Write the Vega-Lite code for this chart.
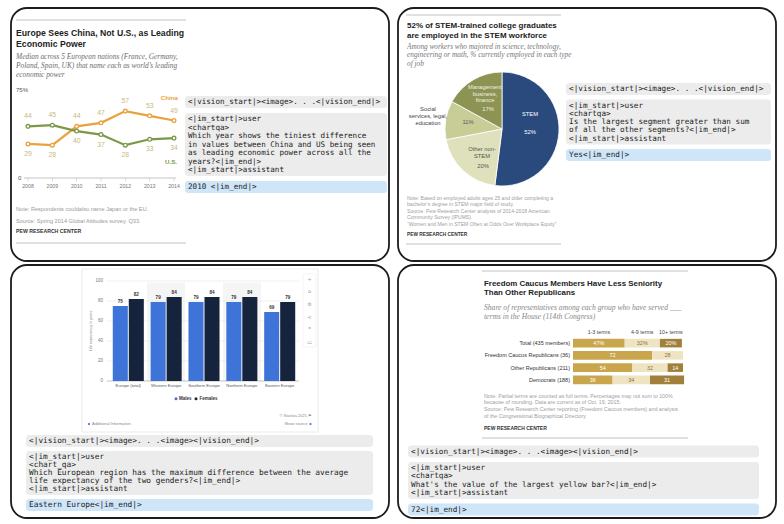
{
  "$schema": "https://vega.github.io/schema/vega-lite/v6.json",
  "background": "white",
  "padding": {"left": 10, "top": 7, "right": 0, "bottom": 0},
  "spacing": 2,
  "config": {
    "view": {"stroke": "#1c1c1c", "strokeWidth": 1.8, "cornerRadius": 16, "fill": "white"},
    "axis": {"disable": true},
    "legend": {"disable": true},
    "text": {"font": "Liberation Sans"},
    "locale": {"number": {"decimal": ".", "thousands": ",", "grouping": [3], "currency": ["", "%"]}}
  },
  "resolve": {"scale": {"color": "independent", "stroke": "independent", "xOffset": "independent", "theta": "independent"}},
  "vconcat": [
    {
      "hconcat": [
        {
          "width": 378, "height": 253,
          "resolve": {"scale": {"x": "independent", "y": "independent", "color": "independent", "stroke": "independent"}},
          "layer": [
            {
              "data": {"values": [{}]},
              "layer": [
                {"mark": {"type": "rule", "color": "#b3b3b3", "strokeWidth": 0.8},
                 "encoding": {"x": {"datum": 5, "scale": {"domain": [0, 378], "range": [0, 378], "nice": false}}, "x2": {"datum": 175}, "y": {"datum": 12, "scale": {"domain": [0, 253], "range": [0, 253], "nice": false}}}},
                {"mark": {"type": "rule", "color": "#b3b3b3", "strokeWidth": 0.8},
                 "encoding": {"x": {"datum": 5}, "x2": {"datum": 175}, "y": {"datum": 235}}},
                {"mark": {"type": "rule", "color": "#b8b8b8", "strokeWidth": 0.8},
                 "encoding": {"x": {"datum": 13}, "x2": {"datum": 165}, "y": {"datum": 170}}},
                {"mark": {"type": "text", "align": "left", "baseline": "middle", "fontSize": 6, "color": "#555555"},
                 "encoding": {"x": {"datum": 5}, "y": {"datum": 82}, "text": {"value": "75%"}}},
                {"mark": {"type": "text", "align": "left", "baseline": "middle", "fontSize": 6, "color": "#555555"},
                 "encoding": {"x": {"datum": 7}, "y": {"datum": 170}, "text": {"value": "0"}}},
                {"mark": {"type": "text", "align": "left", "baseline": "alphabetic", "fontSize": 8.7, "fontWeight": "bold", "color": "#222222", "lineHeight": 11},
                 "encoding": {"x": {"datum": 5}, "y": {"datum": 27.8}, "text": {"value": ["Europe Sees China, Not U.S., as Leading", "Economic Power"]}}},
                {"mark": {"type": "text", "align": "left", "baseline": "alphabetic", "font": "Liberation Serif", "fontStyle": "italic", "fontSize": 7.4, "color": "#6e6e6e", "lineHeight": 9},
                 "encoding": {"x": {"datum": 5}, "y": {"datum": 50.7}, "text": {"value": ["Median across 5 European nations (France, Germany,", "Poland, Spain, UK) that name each as world’s leading", "economic power"]}}},
                {"mark": {"type": "text", "align": "left", "baseline": "alphabetic", "fontSize": 5.6, "color": "#9a9a9a", "lineHeight": 12},
                 "encoding": {"x": {"datum": 5}, "y": {"datum": 203}, "text": {"value": ["Note: Respondents couldalso name Japan or the EU.", "Source: Spring 2014 Global Attitudes survey. Q33."]}}},
                {"mark": {"type": "text", "align": "left", "baseline": "alphabetic", "fontSize": 5.2, "fontWeight": "bold", "color": "#333333"},
                 "encoding": {"x": {"datum": 5}, "y": {"datum": 225}, "text": {"value": "PEW RESEARCH CENTER"}}}
              ]
            },
            {
              "data": {"values": [
                {"year": 2008, "country": "China", "value": 29},
                {"year": 2009, "country": "China", "value": 28},
                {"year": 2010, "country": "China", "value": 44},
                {"year": 2011, "country": "China", "value": 47},
                {"year": 2012, "country": "China", "value": 57},
                {"year": 2013, "country": "China", "value": 53},
                {"year": 2014, "country": "China", "value": 49},
                {"year": 2008, "country": "U.S.", "value": 44},
                {"year": 2009, "country": "U.S.", "value": 45},
                {"year": 2010, "country": "U.S.", "value": 40},
                {"year": 2011, "country": "U.S.", "value": 37},
                {"year": 2012, "country": "U.S.", "value": 28},
                {"year": 2013, "country": "U.S.", "value": 33},
                {"year": 2014, "country": "U.S.", "value": 34}
              ]},
              "encoding": {
                "x": {"field": "year", "type": "quantitative", "scale": {"domain": [2008, 2014], "range": [17, 163], "nice": false, "zero": false}},
                "y": {"field": "value", "type": "quantitative", "scale": {"domain": [0, 75], "range": [170, 82], "nice": false}}
              },
              "layer": [
                {"transform": [{"filter": "datum.country == 'China'"}], "mark": {"type": "tick", "orient": "vertical", "size": 3, "thickness": 0.7, "color": "#b8b8b8", "yOffset": 1.5},
                 "encoding": {"y": {"datum": 0}}},
                {"transform": [{"filter": "datum.country == 'China'"}], "mark": {"type": "text", "fontSize": 5.2, "color": "#777777", "dy": 7.5, "baseline": "middle"},
                 "encoding": {"y": {"datum": 0}, "text": {"field": "year", "type": "quantitative", "format": "d"}}},
                {"mark": {"type": "line", "strokeWidth": 2.2},
                 "encoding": {"color": {"field": "country", "type": "nominal", "scale": {"domain": ["China", "U.S."], "range": ["#e9a23c", "#7b9946"]}, "legend": null}}},
                {"mark": {"type": "point", "filled": true, "fill": "#ffffff", "size": 14, "strokeWidth": 1.3, "opacity": 1},
                 "encoding": {"stroke": {"field": "country", "type": "nominal", "scale": {"domain": ["China", "U.S."], "range": ["#e9a23c", "#7b9946"]}, "legend": null}}},
                {"transform": [{"joinaggregate": [{"op": "max", "field": "value", "as": "ymax"}], "groupby": ["year"]}, {"filter": "datum.value == datum.ymax"}],
                 "mark": {"type": "text", "dy": -10, "fontSize": 6.8, "color": "#c9b97f", "baseline": "middle"},
                 "encoding": {"text": {"field": "value", "type": "quantitative"}}},
                {"transform": [{"joinaggregate": [{"op": "max", "field": "value", "as": "ymax"}], "groupby": ["year"]}, {"filter": "datum.value < datum.ymax"}],
                 "mark": {"type": "text", "dy": 10, "fontSize": 6.8, "color": "#c9b97f", "baseline": "middle"},
                 "encoding": {"text": {"field": "value", "type": "quantitative"}}},
                {"transform": [{"filter": "datum.country == 'China' && datum.year == 2014"}],
                 "mark": {"type": "text", "align": "right", "baseline": "middle", "dx": 4, "dy": -22.5, "fontSize": 6.2, "fontWeight": "bold", "color": "#e9a23c"},
                 "encoding": {"text": {"field": "country"}}},
                {"transform": [{"filter": "datum.country == 'U.S.' && datum.year == 2014"}],
                 "mark": {"type": "text", "align": "right", "baseline": "middle", "dx": 3, "dy": 24, "fontSize": 6.2, "fontWeight": "bold", "color": "#7b9946"},
                 "encoding": {"text": {"field": "country"}}}
              ]
            },
            {
              "data": {"values": [
                {"line": 0, "block": "v", "text": "<|vision_start|><image>. . .<|vision_end|>"},
                {"line": 2, "block": "u", "text": "<|im_start|>user"},
                {"line": 3, "block": "u", "text": "<chartqa>"},
                {"line": 4, "block": "u", "text": "Which year shows the tiniest difference"},
                {"line": 5, "block": "u", "text": "in values between China and US being seen"},
                {"line": 6, "block": "u", "text": "as leading economic power across all the"},
                {"line": 7, "block": "u", "text": "years?<|im_end|>"},
                {"line": 8, "block": "u", "text": "<|im_start|>assistant"},
                {"line": 10, "block": "a", "text": "2010 <|im_end|>"}
              ]},
              "layer": [
                {"transform": [{"aggregate": [{"op": "min", "field": "line", "as": "l0"}, {"op": "max", "field": "line", "as": "l1"}], "groupby": ["block"]}],
                 "mark": {"type": "rect", "cornerRadius": 3, "yOffset": -6, "y2Offset": 6},
                 "encoding": {"x": {"datum": 0, "scale": {"domain": [0, 1], "range": [174, 376], "nice": false}}, "x2": {"datum": 1},
                   "y": {"field": "l0", "type": "quantitative", "scale": {"domain": [0, 10], "range": [94, 179], "nice": false}}, "y2": {"field": "l1"},
                   "fill": {"condition": {"test": "datum.block == 'a'", "value": "#cfe5f8"}, "value": "#ececec"}}},
                {"mark": {"type": "text", "align": "left", "baseline": "middle", "dx": 3, "font": "DejaVu Sans Mono", "fontSize": 7.6, "color": "#222222"},
                 "encoding": {"x": {"datum": 0}, "y": {"field": "line", "type": "quantitative"}, "text": {"field": "text"}}}
              ]
            }
          ]
        },
        {
          "width": 378, "height": 253,
          "resolve": {"scale": {"x": "independent", "y": "independent", "color": "independent"}},
          "layer": [
            {
              "data": {"values": [{}]},
              "layer": [
                {"mark": {"type": "rule", "color": "#b3b3b3", "strokeWidth": 0.8},
                 "encoding": {"x": {"datum": 8, "scale": {"domain": [0, 378], "range": [0, 378], "nice": false}}, "x2": {"datum": 163}, "y": {"datum": 7, "scale": {"domain": [0, 253], "range": [0, 253], "nice": false}}}},
                {"mark": {"type": "rule", "color": "#b3b3b3", "strokeWidth": 0.8},
                 "encoding": {"x": {"datum": 8}, "x2": {"datum": 163}, "y": {"datum": 236}}},
                {"mark": {"type": "text", "align": "left", "baseline": "alphabetic", "fontSize": 8, "fontWeight": "bold", "color": "#222222", "lineHeight": 10},
                 "encoding": {"x": {"datum": 9}, "y": {"datum": 19.9}, "text": {"value": ["52% of STEM-trained college graduates", "are employed in the STEM workforce"]}}},
                {"mark": {"type": "text", "align": "left", "baseline": "alphabetic", "font": "Liberation Serif", "fontStyle": "italic", "fontSize": 7.3, "color": "#777777", "lineHeight": 8.5},
                 "encoding": {"x": {"datum": 9}, "y": {"datum": 40.6}, "text": {"value": ["Among workers who majored in science, technology,", "engineering or math, % currently employed in each type", "of job"]}}},
                {"mark": {"type": "text", "align": "left", "baseline": "alphabetic", "fontSize": 5.1, "color": "#a0a0a0", "lineHeight": 6.5},
                 "encoding": {"x": {"datum": 9}, "y": {"datum": 191.5}, "text": {"value": ["Note: Based on employed adults ages 25 and older completing a", "bachelor’s degree in STEM major field of study.", "Source: Pew Research Center analysis of 2014-2018 American", "Community Survey (IPUMS).", "“Women and Men in STEM Often at Odds Over Workplace Equity”"]}}},
                {"mark": {"type": "text", "align": "left", "baseline": "alphabetic", "fontSize": 4.8, "fontWeight": "bold", "color": "#333333"},
                 "encoding": {"x": {"datum": 9}, "y": {"datum": 227.8}, "text": {"value": "PEW RESEARCH CENTER"}}}
              ]
            },
            {
              "data": {"values": [
                {"category": "STEM", "pct": 52},
                {"category": "Other non-STEM", "pct": 20},
                {"category": "Social services, legal, education", "pct": 11},
                {"category": "Management, business, finance", "pct": 17}
              ]},
              "layer": [
                {"transform": [{"window": [{"op": "row_number", "as": "seq"}]}],
                 "mark": {"type": "arc", "outerRadius": 57, "x": 104, "y": 121, "stroke": "#ffffff", "strokeWidth": 0.8},
                 "encoding": {
                   "theta": {"field": "pct", "type": "quantitative", "stack": true},
                   "order": {"field": "seq", "type": "quantitative"},
                   "color": {"field": "category", "type": "nominal", "scale": {"domain": ["STEM", "Other non-STEM", "Social services, legal, education", "Management, business, finance"], "range": ["#2a4a7d", "#dfe1bd", "#c8cd98", "#8d9352"]}, "legend": null}
                 }},
                {
                  "data": {"values": [{}]},
                  "layer": [
                    {"mark": {"type": "text", "baseline": "middle", "fontSize": 5.8, "color": "#ffffff"},
                     "encoding": {"x": {"datum": 132, "scale": {"domain": [0, 378], "range": [0, 378], "nice": false}}, "y": {"datum": 106, "scale": {"domain": [0, 253], "range": [0, 253], "nice": false}}, "text": {"value": "STEM"}}},
                    {"mark": {"type": "text", "baseline": "middle", "fontSize": 5.8, "color": "#ffffff"},
                     "encoding": {"x": {"datum": 132}, "y": {"datum": 124}, "text": {"value": "52%"}}},
                    {"mark": {"type": "text", "baseline": "alphabetic", "fontSize": 5.8, "color": "#f2f2e2", "lineHeight": 6.7},
                     "encoding": {"x": {"datum": 87}, "y": {"datum": 81}, "text": {"value": ["Management", "business,", "finance"]}}},
                    {"mark": {"type": "text", "baseline": "middle", "fontSize": 5.8, "color": "#f2f2e2"},
                     "encoding": {"x": {"datum": 90}, "y": {"datum": 101}, "text": {"value": "17%"}}},
                    {"mark": {"type": "text", "baseline": "alphabetic", "fontSize": 5.8, "color": "#444444", "lineHeight": 7},
                     "encoding": {"x": {"datum": 30}, "y": {"datum": 103}, "text": {"value": ["Social", "services, legal,", "education"]}}},
                    {"mark": {"type": "text", "baseline": "middle", "fontSize": 5.8, "color": "#555555"},
                     "encoding": {"x": {"datum": 70}, "y": {"datum": 114}, "text": {"value": "11%"}}},
                    {"mark": {"type": "text", "baseline": "alphabetic", "fontSize": 5.8, "color": "#555555", "lineHeight": 7},
                     "encoding": {"x": {"datum": 84}, "y": {"datum": 143}, "text": {"value": ["Other non-", "STEM"]}}},
                    {"mark": {"type": "text", "baseline": "middle", "fontSize": 5.8, "color": "#555555"},
                     "encoding": {"x": {"datum": 85}, "y": {"datum": 158}, "text": {"value": "20%"}}}
                  ]
                }
              ]
            },
            {
              "data": {"values": [
                {"line": 0, "block": "v", "text": "<|vision_start|><image>. . .<|vision_end|>"},
                {"line": 2, "block": "u", "text": "<|im_start|>user"},
                {"line": 3, "block": "u", "text": "<chartqa>"},
                {"line": 4, "block": "u", "text": "Is the largest segment greater than sum"},
                {"line": 5, "block": "u", "text": "of all the other segments?<|im_end|>"},
                {"line": 6, "block": "u", "text": "<|im_start|>assistant"},
                {"line": 8, "block": "a", "text": "Yes<|im_end|>"}
              ]},
              "layer": [
                {"transform": [{"aggregate": [{"op": "min", "field": "line", "as": "l0"}, {"op": "max", "field": "line", "as": "l1"}], "groupby": ["block"]}],
                 "mark": {"type": "rect", "cornerRadius": 3, "yOffset": -6, "y2Offset": 6},
                 "encoding": {"x": {"datum": 0, "scale": {"domain": [0, 1], "range": [168, 373], "nice": false}}, "x2": {"datum": 1},
                   "y": {"field": "l0", "type": "quantitative", "scale": {"domain": [0, 8], "range": [81, 147], "nice": false}}, "y2": {"field": "l1"},
                   "fill": {"condition": {"test": "datum.block == 'a'", "value": "#cfe5f8"}, "value": "#ececec"}}},
                {"mark": {"type": "text", "align": "left", "baseline": "middle", "dx": 3, "font": "DejaVu Sans Mono", "fontSize": 7.7, "color": "#222222"},
                 "encoding": {"x": {"datum": 0}, "y": {"field": "line", "type": "quantitative"}, "text": {"field": "text"}}}
              ]
            }
          ]
        }
      ],
      "spacing": 9,
      "bounds": "flush",
      "resolve": {"scale": {"color": "independent", "stroke": "independent", "xOffset": "independent", "theta": "independent"}}
    },
    {
      "hconcat": [
        {
          "width": 378, "height": 253,
          "data": {"values": [
            {"region": "Europe (total)", "sex": "Males", "value": 75},
            {"region": "Europe (total)", "sex": "Females", "value": 82},
            {"region": "Western Europe", "sex": "Males", "value": 79},
            {"region": "Western Europe", "sex": "Females", "value": 84},
            {"region": "Southern Europe", "sex": "Males", "value": 79},
            {"region": "Southern Europe", "sex": "Females", "value": 84},
            {"region": "Northern Europe", "sex": "Males", "value": 79},
            {"region": "Northern Europe", "sex": "Females", "value": 84},
            {"region": "Eastern Europe", "sex": "Males", "value": 69},
            {"region": "Eastern Europe", "sex": "Females", "value": 79}
          ]},
          "resolve": {"scale": {"x": "independent", "y": "independent", "color": "independent", "xOffset": "independent"}},
          "layer": [
            {
              "data": {"values": [{}]},
              "layer": [
                {"mark": {"type": "rect", "fill": "#ffffff", "stroke": "#e3e3e3", "strokeWidth": 0.7},
                 "encoding": {"x": {"datum": 71, "scale": {"domain": [0, 378], "range": [0, 378], "nice": false}}, "x2": {"datum": 307}, "y": {"datum": 4, "scale": {"domain": [0, 253], "range": [0, 253], "nice": false}}, "y2": {"datum": 167}}},
                {"mark": {"type": "rect", "fill": "#ffffff", "stroke": "#ececec", "strokeWidth": 0.6, "cornerRadius": 1.5},
                 "encoding": {"x": {"datum": 292}, "x2": {"datum": 305}, "y": {"datum": 9}, "y2": {"datum": 82}}},
                {"mark": {"type": "text", "baseline": "alphabetic", "font": "DejaVu Sans", "fontSize": 5, "color": "#a0a0a0", "lineHeight": 12.6},
                 "encoding": {"x": {"datum": 298.5}, "y": {"datum": 15.8}, "text": {"value": ["+", "⌂", "⚙", "<", "❞", "▭"]}}},
                {"mark": {"type": "text", "baseline": "middle", "angle": 270, "fontSize": 3.8, "color": "#8a8a8a"},
                 "encoding": {"x": {"datum": 80}, "y": {"datum": 66}, "text": {"value": "Life expectancy in years"}}},
                {"mark": {"type": "circle", "size": 9, "color": "#3e73d8", "opacity": 1},
                 "encoding": {"x": {"datum": 165}, "y": {"datum": 133.7}}},
                {"mark": {"type": "circle", "size": 9, "color": "#15233c", "opacity": 1},
                 "encoding": {"x": {"datum": 185}, "y": {"datum": 133.7}}},
                {"mark": {"type": "text", "align": "left", "baseline": "middle", "fontSize": 4.5, "fontWeight": "bold", "color": "#333333"},
                 "encoding": {"x": {"datum": 168}, "y": {"datum": 133.7}, "text": {"value": "Males"}}},
                {"mark": {"type": "text", "align": "left", "baseline": "middle", "fontSize": 4.5, "fontWeight": "bold", "color": "#333333"},
                 "encoding": {"x": {"datum": 188.5}, "y": {"datum": 133.7}, "text": {"value": "Females"}}},
                {"mark": {"type": "text", "align": "right", "baseline": "middle", "fontSize": 4, "color": "#888888"},
                 "encoding": {"x": {"datum": 301}, "y": {"datum": 151}, "text": {"value": "© Statista 2021 ⚑"}}},
                {"mark": {"type": "circle", "size": 5, "color": "#3e73d8", "opacity": 1},
                 "encoding": {"x": {"datum": 78}, "y": {"datum": 159}}},
                {"mark": {"type": "text", "align": "left", "baseline": "middle", "fontSize": 4, "color": "#888888"},
                 "encoding": {"x": {"datum": 81}, "y": {"datum": 159}, "text": {"value": "Additional Information"}}},
                {"mark": {"type": "text", "align": "right", "baseline": "middle", "fontSize": 4, "color": "#888888"},
                 "encoding": {"x": {"datum": 296.5}, "y": {"datum": 159}, "text": {"value": "Show source"}}},
                {"mark": {"type": "circle", "size": 5, "color": "#3e73d8", "opacity": 1},
                 "encoding": {"x": {"datum": 299.5}, "y": {"datum": 159}}}
              ]
            },
            {
              "transform": [{"filter": {"field": "region", "oneOf": ["Western Europe", "Northern Europe"]}}, {"filter": "datum.sex == 'Males'"}],
              "mark": {"type": "rect", "color": "#f5f5f5"},
              "encoding": {
                "x": {"field": "region", "type": "nominal", "scale": {"domain": ["Europe (total)", "Western Europe", "Southern Europe", "Northern Europe", "Eastern Europe"], "range": [98, 288], "paddingInner": 0, "paddingOuter": 0}},
                "y": {"datum": 98.5, "scale": {"domain": [0, 100], "range": [116, 16], "nice": false}},
                "y2": {"datum": 0}
              }
            },
            {
              "data": {"values": [{"tick": 0}, {"tick": 20}, {"tick": 40}, {"tick": 60}, {"tick": 80}, {"tick": 100}]},
              "encoding": {"y": {"field": "tick", "type": "quantitative", "scale": {"domain": [0, 100], "range": [116, 16], "nice": false}}},
              "layer": [
                {"mark": {"type": "rule", "strokeWidth": 0.6},
                 "encoding": {"x": {"datum": 0, "scale": {"domain": [0, 1], "range": [96, 288], "nice": false}}, "x2": {"datum": 1},
                   "color": {"condition": {"test": "datum.tick == 0", "value": "#9c9c9c"}, "value": "#e4e4e4"}}},
                {"mark": {"type": "text", "align": "right", "baseline": "middle", "dx": -4, "fontSize": 4.5, "color": "#777777"},
                 "encoding": {"x": {"datum": 0}, "text": {"field": "tick", "type": "quantitative"}}}
              ]
            },
            {
              "encoding": {
                "x": {"field": "region", "type": "nominal", "sort": null, "scale": {"domain": ["Europe (total)", "Western Europe", "Southern Europe", "Northern Europe", "Eastern Europe"], "range": [98, 288], "paddingInner": 0.18, "paddingOuter": 0.1}},
                "y": {"field": "value", "type": "quantitative", "scale": {"domain": [0, 100], "range": [116, 16], "nice": false}}
              },
              "layer": [
                {"mark": {"type": "bar"},
                 "encoding": {
                   "xOffset": {"field": "sex", "type": "nominal", "sort": null, "scale": {"domain": ["Males", "Females"], "paddingInner": 0.06}},
                   "color": {"field": "sex", "type": "nominal", "scale": {"domain": ["Males", "Females"], "range": ["#3e73d8", "#15233c"]}, "legend": null}
                 }},
                {"mark": {"type": "text", "baseline": "middle", "dy": -4, "fontSize": 4.6, "fontWeight": "bold", "color": "#333333"},
                 "encoding": {"xOffset": {"field": "sex", "type": "nominal", "sort": null}, "text": {"field": "value", "type": "quantitative"}}},
                {"transform": [{"filter": "datum.sex == 'Males'"}],
                 "mark": {"type": "text", "baseline": "middle", "dy": 5, "fontSize": 4.2, "color": "#555555"},
                 "encoding": {"y": {"datum": 0}, "text": {"field": "region"}}}
              ]
            },
            {
              "data": {"values": [
                {"line": 0, "block": "v", "text": "<|vision_start|><image>. . .<image><|vision_end|>"},
                {"line": 2, "block": "u", "text": "<|im_start|>user"},
                {"line": 3, "block": "u", "text": "<chart_qa>"},
                {"line": 4, "block": "u", "text": "Which European region has the maximum difference between the average"},
                {"line": 5, "block": "u", "text": "life expectancy of the two genders?<|im_end|>"},
                {"line": 6, "block": "u", "text": "<|im_start|>assistant"},
                {"line": 8, "block": "a", "text": "Eastern Europe<|im_end|>"}
              ]},
              "layer": [
                {"transform": [{"aggregate": [{"op": "min", "field": "line", "as": "l0"}, {"op": "max", "field": "line", "as": "l1"}], "groupby": ["block"]}],
                 "mark": {"type": "rect", "cornerRadius": 3, "yOffset": -6, "y2Offset": 6},
                 "encoding": {"x": {"datum": 0, "scale": {"domain": [0, 1], "range": [15, 362], "nice": false}}, "x2": {"datum": 1},
                   "y": {"field": "l0", "type": "quantitative", "scale": {"domain": [0, 8], "range": [176, 240], "nice": false}}, "y2": {"field": "l1"},
                   "fill": {"condition": {"test": "datum.block == 'a'", "value": "#cfe5f8"}, "value": "#ececec"}}},
                {"mark": {"type": "text", "align": "left", "baseline": "middle", "dx": 3, "font": "DejaVu Sans Mono", "fontSize": 7.8, "color": "#222222"},
                 "encoding": {"x": {"datum": 0}, "y": {"field": "line", "type": "quantitative"}, "text": {"field": "text"}}}
              ]
            }
          ]
        },
        {
          "width": 378, "height": 253,
          "resolve": {"scale": {"x": "independent", "y": "independent", "color": "independent"}},
          "layer": [
            {
              "data": {"values": [{}]},
              "layer": [
                {"mark": {"type": "rule", "color": "#b3b3b3", "strokeWidth": 0.8},
                 "encoding": {"x": {"datum": 84, "scale": {"domain": [0, 378], "range": [0, 378], "nice": false}}, "x2": {"datum": 290}, "y": {"datum": 6, "scale": {"domain": [0, 253], "range": [0, 253], "nice": false}}}},
                {"mark": {"type": "rule", "color": "#b3b3b3", "strokeWidth": 0.8},
                 "encoding": {"x": {"datum": 84}, "x2": {"datum": 290}, "y": {"datum": 173}}},
                {"mark": {"type": "text", "align": "left", "baseline": "alphabetic", "fontSize": 7.9, "fontWeight": "bold", "color": "#222222", "lineHeight": 9.3},
                 "encoding": {"x": {"datum": 86}, "y": {"datum": 20.8}, "text": {"value": ["Freedom Caucus Members Have Less Seniority", "Than Other Republicans"]}}},
                {"mark": {"type": "text", "align": "left", "baseline": "alphabetic", "font": "Liberation Serif", "fontStyle": "italic", "fontSize": 7.6, "color": "#888888", "lineHeight": 9},
                 "encoding": {"x": {"datum": 86}, "y": {"datum": 44.7}, "text": {"value": ["Share of representatives among each group who have served ___", "terms in the House (114th Congress)"]}}},
                {"mark": {"type": "text", "align": "left", "baseline": "alphabetic", "fontSize": 5.3, "color": "#a0a0a0", "lineHeight": 6.9},
                 "encoding": {"x": {"datum": 86}, "y": {"datum": 132.5}, "text": {"value": ["Note: Partial terms are counted as full terms. Percentages may not sum to 100%", "because of rounding. Data are current as of Oct. 19, 2015.", "Source: Pew Research Center reporting (Freedom Caucus members) and analysis", "of the Congressional Biographical Directory"]}}},
                {"mark": {"type": "text", "align": "left", "baseline": "alphabetic", "fontSize": 5, "fontWeight": "bold", "color": "#333333"},
                 "encoding": {"x": {"datum": 86}, "y": {"datum": 164.8}, "text": {"value": "PEW RESEARCH CENTER"}}}
              ]
            },
            {
              "data": {"values": [
                {"group": "Total (435 members)", "term": "1-3 terms", "value": 47},
                {"group": "Total (435 members)", "term": "4-9 terms", "value": 32},
                {"group": "Total (435 members)", "term": "10+ terms", "value": 20},
                {"group": "Freedom Caucus Republicans (36)", "term": "1-3 terms", "value": 72},
                {"group": "Freedom Caucus Republicans (36)", "term": "4-9 terms", "value": 28},
                {"group": "Other Republicans (211)", "term": "1-3 terms", "value": 54},
                {"group": "Other Republicans (211)", "term": "4-9 terms", "value": 32},
                {"group": "Other Republicans (211)", "term": "10+ terms", "value": 14},
                {"group": "Democrats (188)", "term": "1-3 terms", "value": 36},
                {"group": "Democrats (188)", "term": "4-9 terms", "value": 34},
                {"group": "Democrats (188)", "term": "10+ terms", "value": 31}
              ]},
              "transform": [{"window": [{"op": "row_number", "as": "seq"}], "groupby": ["group"]}],
              "encoding": {
                "y": {"field": "group", "type": "nominal", "sort": null, "scale": {"domain": ["Total (435 members)", "Freedom Caucus Republicans (36)", "Other Republicans (211)", "Democrats (188)"], "range": [72, 121], "paddingInner": 0.3, "paddingOuter": 0.15}},
                "x": {"field": "value", "type": "quantitative", "stack": "zero", "scale": {"domain": [0, 100], "range": [175, 285], "nice": false}},
                "order": {"field": "seq", "type": "quantitative"},
                "detail": {"field": "term"}
              },
              "layer": [
                {"mark": {"type": "bar"},
                 "encoding": {"color": {"field": "term", "type": "nominal", "scale": {"domain": ["1-3 terms", "4-9 terms", "10+ terms"], "range": ["#c9a64c", "#efe4c2", "#a0803a"]}, "legend": null}}},
                {"transform": [{"filter": "datum.group != 'Total (435 members)'"}],
                 "mark": {"type": "text", "fontSize": 5.5, "baseline": "middle"},
                 "encoding": {"x": {"field": "value", "type": "quantitative", "stack": "zero", "bandPosition": 0.5},
                   "text": {"field": "value", "type": "quantitative", "format": "d"},
                   "color": {"condition": {"test": "datum.term == '4-9 terms'", "value": "#8b7339"}, "value": "#ffffff"}}},
                {"transform": [{"filter": "datum.group == 'Total (435 members)'"}],
                 "mark": {"type": "text", "fontSize": 5.5, "baseline": "middle"},
                 "encoding": {"x": {"field": "value", "type": "quantitative", "stack": "zero", "bandPosition": 0.5},
                   "text": {"field": "value", "type": "quantitative", "format": "$d"},
                   "color": {"condition": {"test": "datum.term == '4-9 terms'", "value": "#8b7339"}, "value": "#ffffff"}}},
                {"transform": [{"filter": "datum.group == 'Total (435 members)'"}],
                 "mark": {"type": "text", "fontSize": 5.3, "baseline": "middle", "dy": -11, "color": "#444444"},
                 "encoding": {"x": {"field": "value", "type": "quantitative", "stack": "zero", "bandPosition": 0.5}, "text": {"field": "term"}}},
                {"transform": [{"filter": "datum.seq == 1"}],
                 "mark": {"type": "text", "align": "right", "baseline": "middle", "dx": -3, "fontSize": 5.5, "color": "#333333"},
                 "encoding": {"x": {"datum": 0}, "text": {"field": "group"}}}
              ]
            },
            {
              "data": {"values": [
                {"line": 0, "block": "v", "text": "<|vision_start|><image>. . .<image><|vision_end|>"},
                {"line": 2, "block": "u", "text": "<|im_start|>user"},
                {"line": 3, "block": "u", "text": "<chartqa>"},
                {"line": 4, "block": "u", "text": "What's the value of the largest yellow bar?<|im_end|>"},
                {"line": 5, "block": "u", "text": "<|im_start|>assistant"},
                {"line": 7, "block": "a", "text": "72<|im_end|>"}
              ]},
              "layer": [
                {"transform": [{"aggregate": [{"op": "min", "field": "line", "as": "l0"}, {"op": "max", "field": "line", "as": "l1"}], "groupby": ["block"]}],
                 "mark": {"type": "rect", "cornerRadius": 3, "yOffset": -6, "y2Offset": 6},
                 "encoding": {"x": {"datum": 0, "scale": {"domain": [0, 1], "range": [10, 361], "nice": false}}, "x2": {"datum": 1},
                   "y": {"field": "l0", "type": "quantitative", "scale": {"domain": [0, 7], "range": [186.5, 244.5], "nice": false}}, "y2": {"field": "l1"},
                   "fill": {"condition": {"test": "datum.block == 'a'", "value": "#cfe5f8"}, "value": "#ececec"}}},
                {"mark": {"type": "text", "align": "left", "baseline": "middle", "dx": 3, "font": "DejaVu Sans Mono", "fontSize": 7.7, "color": "#222222"},
                 "encoding": {"x": {"datum": 0}, "y": {"field": "line", "type": "quantitative"}, "text": {"field": "text"}}}
              ]
            }
          ]
        }
      ],
      "spacing": 9,
      "bounds": "flush",
      "resolve": {"scale": {"color": "independent", "stroke": "independent", "xOffset": "independent", "theta": "independent"}}
    }
  ]
}
